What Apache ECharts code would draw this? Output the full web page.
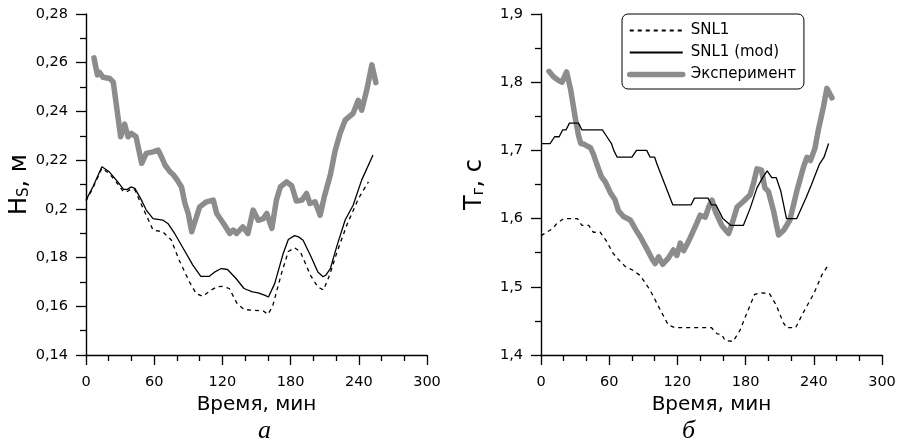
<!DOCTYPE html>
<html><head><meta charset="utf-8">
<script src="https://cdn.jsdelivr.net/npm/echarts@6/dist/echarts.min.js"></script>
<style>html,body{margin:0;padding:0;background:#fff}#c{width:903px;height:444px}</style>
</head><body><div id="c"></div><script>
// ---- tick labels ----
const xTickLabels = ['0','60','120','180','240','300'];
const hsTickLabels = ['0,14','0,16','0,18','0,2','0,22','0,24','0,26','0,28'];
const tpTickLabels = ['1,4','1,5','1,6','1,7','1,8','1,9'];
const legendNames = ['SNL1','SNL1 (mod)','Эксперимент'];

// ---- panel a: Hs ----
const hsSnlT = [0,6,14,20.5,28,33,36.5,40,43,48,53,59,67.5,75,82,91,97,102.5,110,115,120,126,133,139,148,156,160,164,172,178,183.5,188.5,197.5,204,209,214.5,221,230,240,248.5];
const hsSnlV = [0.2032,0.2085,0.2167,0.2145,0.2102,0.207,0.2072,0.2082,0.2078,0.2025,0.1974,0.1913,0.1906,0.1872,0.1789,0.170,0.1652,0.1641,0.1666,0.168,0.1682,0.1673,0.1611,0.1587,0.1583,0.1581,0.1567,0.1597,0.1735,0.1825,0.184,0.1825,0.1727,0.1679,0.1667,0.173,0.1825,0.194,0.2045,0.2111];
const hsModT = [0,6,14,20.5,28,33,36.5,39.5,43,48,53,59,67.5,72,78,86.5,94,101,108.5,113,119,124.5,132,139,146.5,151.5,153,157.5,160.5,166,173.5,178,183.5,187,191,198,204,208.5,211,215,220.5,228,235,242.5,252.5];
const hsModV = [0.2036,0.209,0.2173,0.2152,0.2111,0.208,0.208,0.209,0.2084,0.2043,0.1995,0.196,0.1954,0.194,0.1899,0.183,0.1769,0.1723,0.1723,0.174,0.1755,0.1751,0.1714,0.1673,0.1659,0.1655,0.1662,0.1645,0.1638,0.1693,0.1817,0.1874,0.189,0.1885,0.1871,0.1803,0.1741,0.1721,0.1728,0.1755,0.1844,0.1954,0.2015,0.2118,0.2221];
const hsExpT = [7,10,12,15,21,24,30.5,34,37,40,44,49,53,59,63.5,66.5,69.5,74,77,80,84,87,90,93,100,106,112,115,121,126.5,129.5,132.5,138,142.5,147,151.5,156,159,163.5,167.5,171,176.5,181,185,190,194,197,201.5,206,210,215,219,223.5,228,235,239.5,242.5,247,251.5,255];
const hsExpV = [0.262,0.255,0.256,0.254,0.2535,0.252,0.2296,0.2348,0.2296,0.231,0.2296,0.2187,0.2228,0.2234,0.2241,0.2213,0.218,0.2152,0.2139,0.212,0.209,0.2023,0.198,0.1906,0.2008,0.2029,0.2036,0.1981,0.194,0.1899,0.1913,0.1899,0.1926,0.1899,0.1995,0.1953,0.196,0.1981,0.192,0.2036,0.209,0.2111,0.2095,0.2032,0.2036,0.2063,0.2022,0.2029,0.1974,0.2056,0.214,0.2235,0.2309,0.2364,0.2392,0.2446,0.2405,0.2488,0.2591,0.2518];

// ---- panel b: Tp ----
const tpSnlT = [0,5,10,14,20,32,36,42,46,52,58,63,67,71,74,80,87,92,96,105,112,118,150,155,159,162,169,175,181,188,194,201,207,213,216,224,231,240,247,252];
const tpSnlV = [1.575,1.58,1.585,1.593,1.60,1.60,1.59,1.59,1.58,1.58,1.566,1.55,1.542,1.535,1.53,1.525,1.517,1.505,1.495,1.466,1.444,1.44,1.44,1.431,1.43,1.421,1.42,1.436,1.461,1.489,1.491,1.49,1.473,1.448,1.44,1.44,1.463,1.49,1.517,1.53];
const tpModT = [0,8,12,16,19,22,25,33,36,54,58,62,64,67,80,84,93,96,100,102,116,132,135,147,150,154,160,167,178,184,190,195,199,203,207,211,216,225,233,238,245,249,253];
const tpModV = [1.71,1.71,1.72,1.72,1.73,1.73,1.74,1.74,1.73,1.73,1.72,1.71,1.70,1.69,1.69,1.70,1.70,1.69,1.69,1.68,1.62,1.62,1.63,1.63,1.62,1.62,1.60,1.59,1.59,1.615,1.645,1.66,1.67,1.66,1.66,1.64,1.60,1.60,1.63,1.65,1.68,1.69,1.71];
const tpExpT = [7,11,15,18.5,22.5,26,30,33,35,38,41,43.5,46,49.5,53,56.5,61,65,68,72.5,78.5,84,87.5,93,98,100.5,103.5,107,112,116.5,119.5,122.5,125.5,131,137,140,144.5,147.5,150.5,153.5,159,165,168,172.5,178,184,187,190,194,197,200,204.5,209,213.5,219,225,231,234,237,241,244,248.5,251.5,256];
const tpExpV = [1.816,1.808,1.803,1.80,1.815,1.79,1.749,1.722,1.71,1.709,1.706,1.704,1.695,1.678,1.662,1.654,1.638,1.628,1.612,1.603,1.598,1.582,1.573,1.556,1.54,1.534,1.544,1.533,1.542,1.554,1.546,1.564,1.553,1.571,1.593,1.605,1.602,1.617,1.627,1.61,1.59,1.578,1.592,1.617,1.625,1.635,1.652,1.673,1.671,1.645,1.64,1.612,1.576,1.583,1.598,1.64,1.676,1.69,1.685,1.703,1.73,1.764,1.791,1.777];

const zip = (T, V) => T.map((t, i) => [t, V[i]]);
const FONT = 'DejaVu Sans';
const GRAY = '#8c8c8c';

function xAxis(gi) {
  return {
    type: 'value', gridIndex: gi, min: 0, max: 300, interval: 60,
    name: 'Время, мин', nameLocation: 'middle', nameGap: 40,
    nameTextStyle: { fontFamily: FONT, fontSize: 20, color: '#000' },
    axisLine: { lineStyle: { color: '#000', width: 1.4 } },
    axisTick: { show: true, length: 10, lineStyle: { color: '#000', width: 1.3 } },
    minorTick: { show: true, splitNumber: 3, length: 6, lineStyle: { color: '#000', width: 1.3 } },
    axisLabel: { margin: 20, fontFamily: FONT, fontSize: 14.5, color: '#000',
      formatter: v => xTickLabels[Math.round(v / 60)] },
    splitLine: { show: false }
  };
}
function yAxis(gi, min, max, interval, labels, name, rich) {
  return {
    type: 'value', gridIndex: gi, min, max, interval,
    name, nameLocation: 'middle', nameGap: 54,
    nameTextStyle: { fontFamily: FONT, fontSize: 24, color: '#000', rich },
    axisLine: { show: true, lineStyle: { color: '#000', width: 1.4 } },
    axisTick: { show: true, length: 10, lineStyle: { color: '#000', width: 1.3 } },
    minorTick: { show: true, splitNumber: 2, length: 6, lineStyle: { color: '#000', width: 1.3 } },
    axisLabel: { margin: 18, fontFamily: FONT, fontSize: 14.5, color: '#000',
      formatter: v => labels[Math.round((v - min) / interval)] },
    splitLine: { show: false }
  };
}
const richBase = {
  a: { fontFamily: FONT, fontSize: 24, color: '#000', lineHeight: 30, verticalAlign: 'bottom' },
  b: { fontFamily: FONT, fontSize: 15, color: '#000', lineHeight: 15, verticalAlign: 'bottom' }
};

function lineSeries(name, xi, data, kind) {
  const s = { name, type: 'line', xAxisIndex: xi, yAxisIndex: xi, data, symbol: 'none',
    showSymbol: false, smooth: false, animation: false, emphasis: { disabled: true } };
  if (kind === 'exp') s.lineStyle = { color: GRAY, width: 5.5, join: 'round', cap: 'round' };
  else if (kind === 'snl') s.lineStyle = { color: '#000', width: 1.3, type: [4, 4] };
  else s.lineStyle = { color: '#000', width: 1.3 };
  s.itemStyle = { color: s.lineStyle.color };
  return s;
}

const chart = echarts.init(document.getElementById('c'), null, { renderer: 'canvas' });
chart.setOption({
  backgroundColor: '#fff',
  animation: false,
  grid: [
    { left: 86, top: 14, width: 341, height: 341 },
    { left: 541, top: 14, width: 341, height: 341 }
  ],
  xAxis: [xAxis(0), xAxis(1)],
  yAxis: [
    yAxis(0, 0.14, 0.28, 0.02, hsTickLabels, '{a|H}{b|S}{a|, м}', richBase),
    yAxis(1, 1.4, 1.9, 0.1, tpTickLabels, '{a|T}{b|г}{a|, с}', richBase)
  ],
  legend: {
    data: [
      { name: legendNames[0] },
      { name: legendNames[1] },
      { name: legendNames[2], lineStyle: { width: 5.5, color: GRAY } }
    ],
    orient: 'vertical', left: 622, top: 14,
    itemWidth: 53, itemHeight: 14, itemGap: 7,
    padding: [9, 8, 7, 5],
    borderColor: '#000', borderWidth: 1, borderRadius: 6,
    itemStyle: { opacity: 0 },
    textStyle: { fontFamily: FONT, fontSize: 15, color: '#000', padding: [0, 0, 0, 3] },
    selectedMode: false
  },
  series: [
    lineSeries('Эксперимент', 0, zip(hsExpT, hsExpV), 'exp'),
    lineSeries('SNL1', 0, zip(hsSnlT, hsSnlV), 'snl'),
    lineSeries('SNL1 (mod)', 0, zip(hsModT, hsModV), 'mod'),
    lineSeries('Эксперимент', 1, zip(tpExpT, tpExpV), 'exp'),
    lineSeries('SNL1', 1, zip(tpSnlT, tpSnlV), 'snl'),
    lineSeries('SNL1 (mod)', 1, zip(tpModT, tpModV), 'mod')
  ],
  graphic: [
    { type: 'text', left: 258, top: 418, style: { text: 'а', font: 'italic 26px "Liberation Serif"', fill: '#000' } },
    { type: 'text', left: 682, top: 418, style: { text: 'б', font: 'italic 26px "Liberation Serif"', fill: '#000' } }
  ]
});
</script></body></html>
